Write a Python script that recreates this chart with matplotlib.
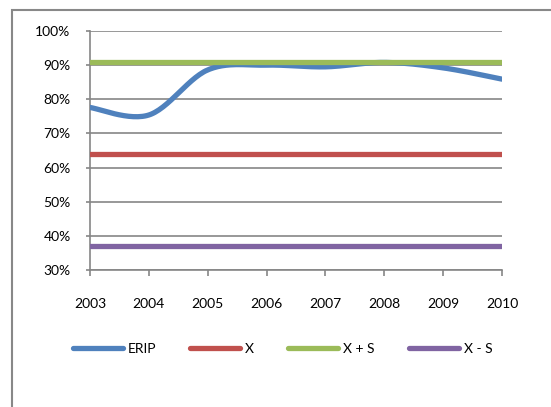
import numpy as np
import matplotlib
matplotlib.use("Agg")
import matplotlib.pyplot as plt
from matplotlib.patches import Rectangle

plt.rcParams['font.family'] = ['Lato', 'DejaVu Sans']

years = [2003, 2004, 2005, 2006, 2007, 2008, 2009, 2010]
erip = [77.6, 75.4, 88.6, 90.0, 89.5, 90.8, 89.2, 85.9]
x_mean = [64.0] * 8
x_plus_s = [90.8] * 8
x_minus_s = [36.9] * 8

colors = {'ERIP': '#4f81bd', 'X': '#c0504d', 'X + S': '#9bbb59', 'X - S': '#8064a2'}


def smooth(xs, ys, n=30):
    # Excel style smoothing: cubic bezier between points, control points from neighbours
    xs = np.asarray(xs, float)
    ys = np.asarray(ys, float)
    px = np.concatenate([[xs[0]], xs, [xs[-1]]])
    py = np.concatenate([[ys[0]], ys, [ys[-1]]])
    outx, outy = [], []
    t = np.linspace(0, 1, n)
    for i in range(1, len(px) - 2):
        p0 = np.array([px[i], py[i]])
        p3 = np.array([px[i + 1], py[i + 1]])
        c1 = p0 + (np.array([px[i + 1], py[i + 1]]) - np.array([px[i - 1], py[i - 1]])) / 6
        c2 = p3 - (np.array([px[i + 2], py[i + 2]]) - np.array([px[i], py[i]])) / 6
        b = ((1 - t) ** 3)[:, None] * p0 + (3 * (1 - t) ** 2 * t)[:, None] * c1 \
            + (3 * (1 - t) * t ** 2)[:, None] * c2 + (t ** 3)[:, None] * p3
        outx.extend(b[:, 0])
        outy.extend(b[:, 1])
    return outx, outy


fig = plt.figure(figsize=(5.51, 4.07), dpi=100)
ax = fig.add_axes([90 / 551, 1 - 270 / 407, 412 / 551, 239 / 407])

idx = np.arange(len(years))
sx, sy = smooth(idx, erip)
ax.plot(sx, sy, color=colors['ERIP'], lw=3.8, solid_capstyle='round', label='ERIP', zorder=3)
ax.plot(idx, x_mean, color=colors['X'], lw=3.8, solid_capstyle='round', label='X', zorder=3)
ax.plot(idx, x_plus_s, color=colors['X + S'], lw=3.8, solid_capstyle='round', label='X + S', zorder=3)
ax.plot(idx, x_minus_s, color=colors['X - S'], lw=3.8, solid_capstyle='round', label='X - S', zorder=3)

ax.set_xlim(0, len(years) - 1)
ax.set_ylim(30, 100)
ax.set_yticks(range(30, 101, 10))
ax.set_yticklabels([f'{v}%' for v in range(30, 101, 10)])
ax.set_xticks(idx)
ax.set_xticklabels([str(y) for y in years])

ax.grid(axis='y', color='#868686', lw=1.2)
ax.set_axisbelow(True)
for s in ['top', 'right']:
    ax.spines[s].set_visible(False)
for s in ['left', 'bottom']:
    ax.spines[s].set_color('#868686')
    ax.spines[s].set_linewidth(1.2)
ax.tick_params(axis='y', length=3, width=1.2, color='#868686', pad=11, labelsize=10)
ax.tick_params(axis='x', length=4, width=1.2, color='#868686', pad=16, labelsize=10)
for lab in ax.get_xticklabels() + ax.get_yticklabels():
    lab.set_clip_on(False)

fig.legend(loc='center', bbox_to_anchor=(0.513, 1 - 349 / 407), ncol=4, frameon=False,
           handlelength=3.6, handletextpad=0.35, columnspacing=2.45, fontsize=10)

# outer chart frame
fig.patches.append(Rectangle((12 / 551, -0.1), 1.2, 1 - 10 / 407 + 0.1, transform=fig.transFigure,
                             fill=False, edgecolor='#888888', lw=1.5))

fig.savefig('out.png', dpi=100)
